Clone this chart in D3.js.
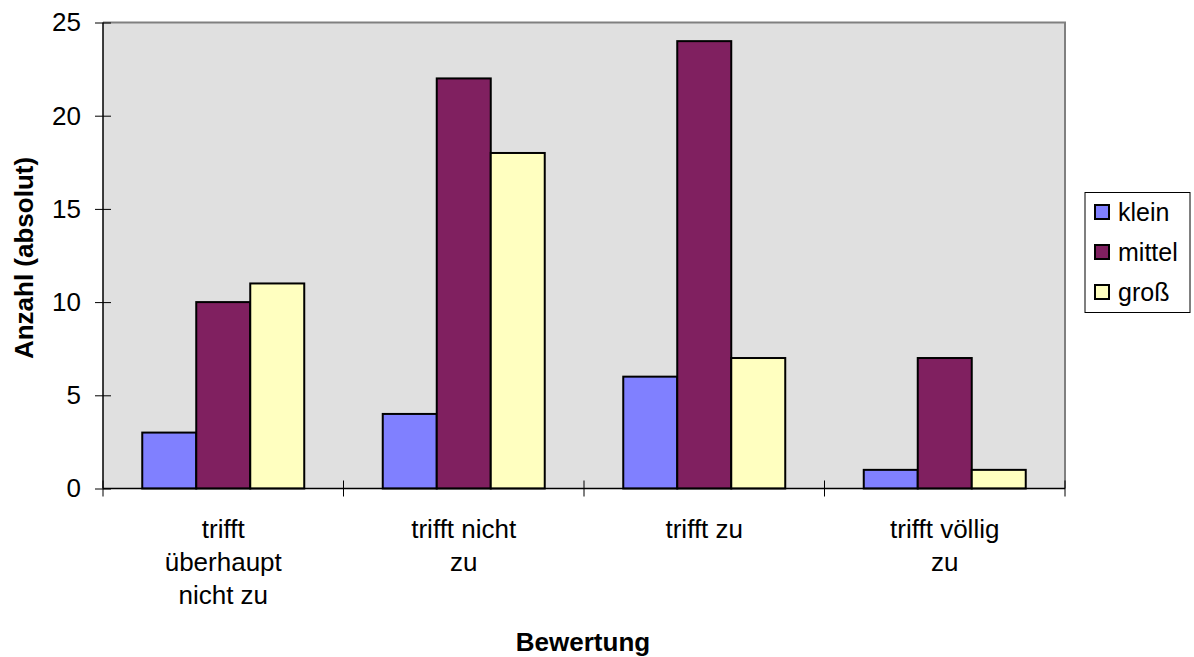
<!DOCTYPE html>
<html><head><meta charset="utf-8">
<script src="https://cdn.jsdelivr.net/npm/d3@7"></script>
<style>body{margin:0;background:#fff}svg{display:block;font-family:"Liberation Sans",Arial,sans-serif}</style>
</head><body><svg id="c" width="1194" height="657"></svg>
<script>
const categories = ["trifft überhaupt nicht zu","trifft nicht zu","trifft zu","trifft völlig zu"];
const categoryLines = [["trifft","überhaupt","nicht zu"],["trifft nicht","zu"],["trifft zu"],["trifft völlig","zu"]];
const seriesNames = ["klein","mittel","groß"];
const klein = [3,4,6,1];
const mittel = [10,22,24,7];
const gross = [11,18,7,1];
const seriesColors = ["#8080ff","#802060","#ffffc0"];
const yTicks = [0,5,10,15,20,25];

const seriesValues = [klein, mittel, gross];
const FF = "Liberation Sans, Arial, sans-serif";
const svg = d3.select("#c");
const m = {l:103, r:1065, t:22.5, b:488.5};

const x = d3.scaleBand().domain(categories).range([m.l, m.r]).paddingInner(0).paddingOuter(0);
const inner = d3.scaleBand().domain(seriesNames).range([0, x.bandwidth()]).paddingInner(0).paddingOuter(0.727);
const y = d3.scaleLinear().domain([0,25]).range([m.b, m.t]);

// plot background
svg.append("rect").attr("x",m.l).attr("y",m.t).attr("width",m.r-m.l).attr("height",m.b-m.t)
  .attr("fill","#e0e0e0");
svg.append("path").attr("d",`M${m.l},${m.t}H${m.r}V${m.b}`).attr("fill","none").attr("stroke","#808080").attr("stroke-width",2);

// bars
const g = svg.append("g");
seriesNames.forEach((s,si)=>{
  g.selectAll(null).data(categories).enter().append("rect")
    .attr("x",d=>x(d)+inner(s))
    .attr("y",(d,i)=>y(seriesValues[si][i]))
    .attr("width",inner.bandwidth())
    .attr("height",(d,i)=>y(0)-y(seriesValues[si][i]))
    .attr("fill",seriesColors[si]).attr("stroke","#000").attr("stroke-width",2);
});

// y axis
const ya = svg.append("g").attr("transform",`translate(${m.l},0)`)
  .call(d3.axisLeft(y).tickValues(yTicks).tickSize(8).tickPadding(14));
ya.select(".domain").attr("stroke","#000").attr("stroke-width",1.5).attr("d",`M0,${m.t}V${m.b}`);
ya.selectAll(".tick line").attr("x1",-8).attr("x2",8).attr("stroke","#000");
ya.selectAll(".tick text").attr("font-size",26).attr("fill","#000").attr("font-family",FF);

// x axis
const xa = svg.append("g").attr("transform",`translate(0,${m.b})`);
xa.append("line").attr("x1",m.l).attr("x2",m.r).attr("stroke","#000").attr("stroke-width",1.5);
const bounds = categories.map(c=>x(c)).concat([m.r]);
xa.selectAll(".xt").data(bounds).enter().append("line")
  .attr("x1",d=>d).attr("x2",d=>d).attr("y1",-8).attr("y2",8).attr("stroke","#000");
categories.forEach((c,i)=>{
  const cx = x(c)+x.bandwidth()/2;
  const t = xa.append("text").attr("x",cx).attr("y",0)
    .attr("text-anchor","middle").attr("font-size",26).attr("fill","#000").attr("font-family",FF);
  categoryLines[i].forEach((ln,j)=>{
    t.append("tspan").attr("x",cx).attr("y",49.5+j*33).text(ln);
  });
});

// axis titles
svg.append("text").attr("x",583).attr("y",651).attr("text-anchor","middle").attr("font-family",FF)
  .attr("font-size",26).attr("font-weight","bold").text("Bewertung");
svg.append("text").attr("transform",`translate(33,258) rotate(-90)`).attr("text-anchor","middle").attr("font-family",FF)
  .attr("font-size",26).attr("font-weight","bold").text("Anzahl (absolut)");

// legend
const lg = svg.append("g");
lg.append("rect").attr("x",1085).attr("y",192.5).attr("width",105).attr("height",120)
  .attr("fill","#fff").attr("stroke","#000").attr("stroke-width",1);
seriesNames.forEach((s,i)=>{
  const cy = 212 + i*40;
  lg.append("rect").attr("x",1095).attr("y",cy-7).attr("width",14).attr("height",14)
    .attr("fill",seriesColors[i]).attr("stroke","#000").attr("stroke-width",2);
  lg.append("text").attr("x",1118).attr("y",cy+9).attr("font-size",25).attr("font-family",FF).text(s);
});
</script></body></html>
